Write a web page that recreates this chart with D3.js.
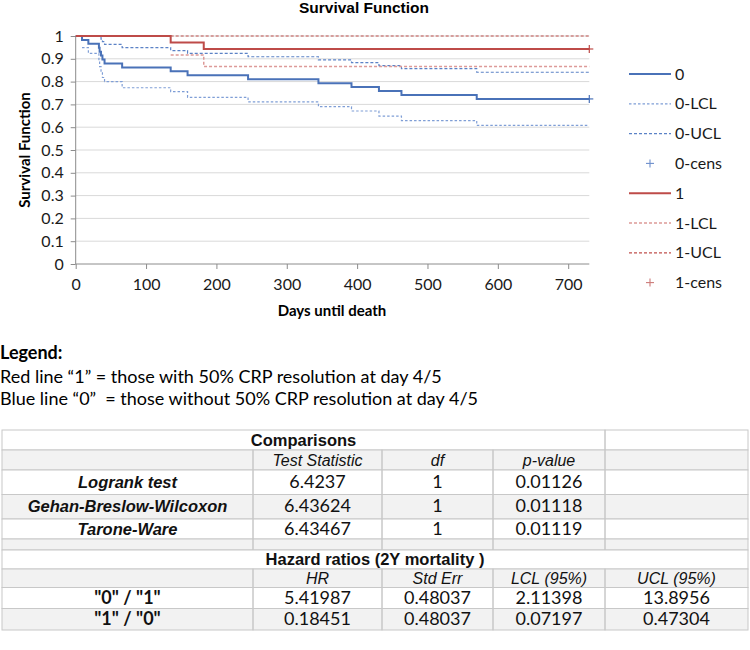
<!DOCTYPE html>
<html>
<head>
<meta charset="utf-8">
<script src="https://cdn.jsdelivr.net/npm/d3@7"></script>
<style>
  body { margin: 0; background: #fff; }
  svg { display: block; }
</style>
</head>
<body>
<svg id="chart" width="750" height="650"></svg>
<script>
// Kaplan-Meier estimates
const days0 = [0, 9, 18, 33, 34, 36, 38, 41, 66, 135, 159, 245, 345, 392, 431, 463, 570, 730];
const surv0 = [1, 0.983, 0.966, 0.948, 0.931, 0.914, 0.897, 0.879, 0.862, 0.845, 0.828, 0.810, 0.793, 0.776, 0.759, 0.741, 0.724, 0.724];
const lcl0 = [null, 0.949, 0.924, 0.890, 0.866, 0.842, 0.818, 0.800, 0.773, 0.756, 0.731, 0.711, 0.690, 0.671, 0.649, 0.629, 0.608, 0.608];
const ucl0 = [null, 1, 1, 1, 0.996, 0.986, 0.975, 0.963, 0.949, 0.936, 0.924, 0.909, 0.895, 0.883, 0.870, 0.857, 0.841, 0.841];

const days1 = [0, 135, 182, 730];
const surv1 = [1, 0.971, 0.943, 0.943];
const lcl1 = [null, 0.917, 0.866, 0.866];
const ucl1 = [null, 1, 1, 1];

const cens0 = [[730, 0.724]];
const cens1 = [[730, 0.943]];

const xTicks = [0, 100, 200, 300, 400, 500, 600, 700];
const yTicks = [0, 0.1, 0.2, 0.3, 0.4, 0.5, 0.6, 0.7, 0.8, 0.9, 1];

const legendNames = ["0", "0-LCL", "0-UCL", "0-cens", "1", "1-LCL", "1-UCL", "1-cens"];

const noteLines = [
  "Red line \u201c1\u201d = those with 50% CRP resolution at day 4/5",
  "Blue line \u201c0\u201d  = those without 50% CRP resolution at day 4/5"
];

// table contents
const compHeaders = ["Test Statistic", "df", "p-value"];
const testNames = ["Logrank test", "Gehan-Breslow-Wilcoxon", "Tarone-Ware"];
const testStat = ["6.4237", "6.43624", "6.43467"];
const testDf = ["1", "1", "1"];
const testP = ["0.01126", "0.01118", "0.01119"];
const hrHeaders = ["HR", "Std Err", "LCL (95%)", "UCL (95%)"];
const hrLabels = ['"0" / "1"', '"1" / "0"'];
const hrValues = [
  ["5.41987", "0.48037", "2.11398", "13.8956"],
  ["0.18451", "0.48037", "0.07197", "0.47304"]
];

const svg = d3.select("#chart");
const calibri = "Lato, 'Open Sans', sans-serif";
const arial = "'Liberation Sans', Arial, sans-serif";

const blue = "#4a72b8", red = "#be4b48";
const styles = {
  "0":     { color: blue, width: 2, dash: null },
  "0-LCL": { color: "#7f9ed6", width: 1.2, dash: "2.5,2" },
  "0-UCL": { color: "#5b82c6", width: 1.2, dash: "3,2" },
  "1":     { color: red, width: 2, dash: null },
  "1-LCL": { color: "#dd9a98", width: 1.5, dash: "3,2" },
  "1-UCL": { color: "#c0504d", width: 1.2, dash: "3,2" }
};

const x = d3.scaleLinear().domain([0, 730]).range([75.7, 589.3]);
const y = d3.scaleLinear().domain([0, 1]).range([264, 36]);

// title
svg.append("text")
  .attr("x", 364).attr("y", 13)
  .attr("text-anchor", "middle")
  .attr("font-family", arial).attr("font-weight", "bold").attr("font-size", 15.5)
  .text("Survival Function");

// gridlines
svg.append("g")
  .selectAll("line")
  .data(yTicks.filter(d => d > 0))
  .join("line")
  .attr("x1", x(0)).attr("x2", x(730))
  .attr("y1", d => y(d)).attr("y2", d => y(d))
  .attr("stroke", "#d9d9d9").attr("stroke-width", 1);

// axes
const yAxis = svg.append("g")
  .attr("transform", `translate(${x(0)},0)`)
  .call(d3.axisLeft(y).tickValues(yTicks).tickSize(5).tickPadding(7)
    .tickFormat(d => (d === 0 || d === 1) ? String(d) : d.toFixed(1)));
const xAxis = svg.append("g")
  .attr("transform", `translate(0,${y(0)})`)
  .call(d3.axisBottom(x).tickValues(xTicks).tickSize(5).tickPadding(10));
[xAxis, yAxis].forEach(g => {
  g.select(".domain").attr("stroke", "#8c8c8c");
  g.selectAll(".tick line").attr("stroke", "#8c8c8c");
  g.selectAll("text").attr("font-family", calibri).attr("font-size", 16).attr("fill", "#1a1a1a");
});
xAxis.select(".domain").attr("d", `M${x(0)},0H${x(730)}`);
yAxis.select(".domain").attr("d", `M0,${y(1)}V${y(0)}`);

// axis titles
svg.append("text")
  .attr("x", 332).attr("y", 316)
  .attr("text-anchor", "middle")
  .attr("font-family", calibri).attr("font-weight", "bold").attr("font-size", 15)
  .text("Days until death");
svg.append("text")
  .attr("transform", "translate(30,150) rotate(-90)")
  .attr("text-anchor", "middle")
  .attr("font-family", calibri).attr("font-weight", "bold").attr("font-size", 15)
  .text("Survival Function");

// curves
const line = d3.line()
  .defined(d => d[1] !== null)
  .x(d => x(d[0])).y(d => y(d[1]))
  .curve(d3.curveStepAfter);

const series = [
  ["0-LCL", days0, lcl0], ["0-UCL", days0, ucl0],
  ["1-LCL", days1, lcl1], ["1-UCL", days1, ucl1],
  ["0", days0, surv0], ["1", days1, surv1]
];
svg.append("g")
  .selectAll("path")
  .data(series)
  .join("path")
  .attr("d", d => line(d[1].map((t, i) => [t, d[2][i]])))
  .attr("fill", "none")
  .attr("stroke", d => styles[d[0]].color)
  .attr("stroke-width", d => styles[d[0]].width)
  .attr("stroke-dasharray", d => styles[d[0]].dash);

// censor marks
function drawCens(data, color) {
  svg.append("g")
    .selectAll("g")
    .data(data)
    .join("g")
    .attr("transform", d => `translate(${x(d[0])},${y(d[1])})`)
    .each(function () {
      const g = d3.select(this);
      g.append("line").attr("x1", -4).attr("x2", 4).attr("stroke", color).attr("stroke-width", 1.2);
      g.append("line").attr("y1", -4).attr("y2", 4).attr("stroke", color).attr("stroke-width", 1.2);
    });
}
drawCens(cens0, blue);
drawCens(cens1, red);

// legend
const legend = svg.append("g")
  .selectAll("g")
  .data(legendNames)
  .join("g")
  .attr("transform", (d, i) => `translate(629,${74 + i * 29.8})`);
legend.each(function (name) {
  const g = d3.select(this);
  if (name.endsWith("cens")) {
    const c = name.startsWith("0") ? "#6d8fcc" : "#cc7a78";
    g.append("line").attr("x1", 17).attr("x2", 25).attr("stroke", c).attr("stroke-width", 1.1);
    g.append("line").attr("x1", 21).attr("x2", 21).attr("y1", -4).attr("y2", 4).attr("stroke", c).attr("stroke-width", 1.1);
  } else {
    const s = styles[name];
    g.append("line").attr("x1", 0).attr("x2", 42)
      .attr("stroke", s.color).attr("stroke-width", s.width)
      .attr("stroke-dasharray", s.dash);
  }
  g.append("text")
    .attr("x", 46).attr("y", 5.5)
    .attr("font-family", calibri).attr("font-size", 16).attr("fill", "#1a1a1a")
    .text(name);
});

// note under the chart
svg.append("text")
  .attr("x", 0).attr("y", 359)
  .attr("font-family", calibri).attr("font-weight", "bold").attr("font-size", 18)
  .text("Legend:");
svg.append("g")
  .selectAll("text")
  .data(noteLines)
  .join("text")
  .attr("x", 0).attr("y", (d, i) => 383 + i * 22)
  .attr("font-family", calibri).attr("font-size", 18)
  .style("white-space", "pre")
  .text(d => d);

// table
const colX = [2, 253, 382, 493, 605, 748];
const rowH = [20, 20, 24.5, 24.5, 20, 11, 19, 18.5, 21, 21.5];
const rowY = [430];
rowH.forEach((h, i) => rowY.push(rowY[i] + h));

// each row: background, spans of cells [fromCol, toCol, text, style]
const rows = [];
rows.push({ bg: "#fff", cells: [[0, 4, "Comparisons", "title"], [4, 5, "", ""]] });
rows.push({ bg: "#f2f2f2", cells: [[0, 1, "", ""]].concat(compHeaders.map((h, j) => [j + 1, j + 2, h, "head"]), [[4, 5, "", ""]]) });
testNames.forEach((n, i) => rows.push({
  bg: i % 2 ? "#f2f2f2" : "#fff",
  cells: [[0, 1, n, "label"], [1, 2, testStat[i], "val"], [2, 3, testDf[i], "val"], [3, 4, testP[i], "val"], [4, 5, "", ""]]
}));
rows.push({ bg: "#f2f2f2", cells: [[0, 1, "", ""], [1, 2, "", ""], [2, 3, "", ""], [3, 4, "", ""], [4, 5, "", ""]] });
rows.push({ bg: "#fff", cells: [[0, 5, "Hazard ratios (2Y mortality )", "title"]] });
rows.push({ bg: "#f2f2f2", cells: [[0, 1, "", ""]].concat(hrHeaders.map((h, j) => [j + 1, j + 2, h, "head"])) });
hrLabels.forEach((n, i) => rows.push({
  bg: i % 2 ? "#f2f2f2" : "#fff",
  cells: [[0, 1, n, "hrlabel"]].concat(hrValues[i].map((v, j) => [j + 1, j + 2, v, "val"]))
}));

const fontFor = {
  title: { family: arial, weight: "bold", style: "normal", size: 16.5 },
  head: { family: arial, weight: "normal", style: "italic", size: 16 },
  label: { family: arial, weight: "bold", style: "italic", size: 16.5 },
  hrlabel: { family: calibri, weight: "bold", style: "normal", size: 18 },
  val: { family: calibri, weight: "normal", style: "normal", size: 18 }
};

const table = svg.append("g");
rows.forEach((r, i) => {
  const y0 = rowY[i], h = rowH[i];
  table.append("rect")
    .attr("x", colX[0]).attr("y", y0)
    .attr("width", colX[5] - colX[0]).attr("height", h)
    .attr("fill", r.bg);
  r.cells.forEach(c => {
    table.append("rect")
      .attr("x", colX[c[0]]).attr("y", y0)
      .attr("width", colX[c[1]] - colX[c[0]]).attr("height", h)
      .attr("fill", "none").attr("stroke", "#c8c8c8").attr("stroke-width", 1);
    if (c[2]) {
      const f = fontFor[c[3]];
      table.append("text")
        .attr("x", (colX[c[0]] + colX[c[1]]) / 2)
        .attr("y", y0 + h / 2 + 5.5)
        .attr("text-anchor", "middle")
        .attr("font-family", f.family).attr("font-weight", f.weight)
        .attr("font-style", f.style).attr("font-size", f.size)
        .attr("fill", "#111")
        .text(c[2]);
    }
  });
});
</script>
</body>
</html>
